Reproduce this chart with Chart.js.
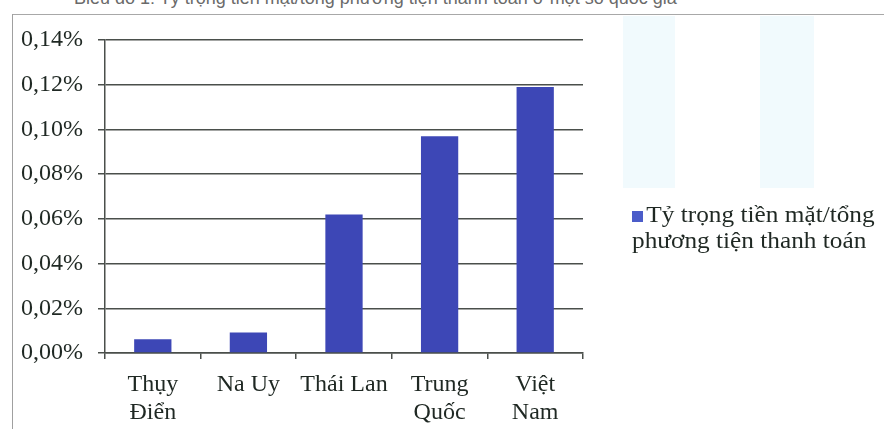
<!DOCTYPE html>
<html lang="vi">
<head>
<meta charset="utf-8">
<title>Tỷ trọng tiền mặt/tổng phương tiện thanh toán</title>
<script src="https://cdn.jsdelivr.net/npm/chart.js@4.4.1/dist/chart.umd.min.js"></script>
<style>
    html, body {
        margin: 0;
        padding: 0;
        background: #ffffff;
        overflow: hidden;
    }
    .page {
        position: relative;
        width: 889px;
        height: 429px;
        overflow: hidden;
        background: #ffffff;
    }
    .captionText {
        position: absolute;
        left: 74px;
        top: -12px;
        font-family: "Liberation Sans", Arial, sans-serif;
        font-size: 18px;
        line-height: 20px;
        color: #6a6a6a;
        white-space: nowrap;
    }
    .frameTop {
        position: absolute;
        left: 12px;
        top: 14px;
        width: 872px;
        height: 0;
        border-top: 1.5px solid #a8a8a8;
    }
    .frameLeft {
        position: absolute;
        left: 12px;
        top: 14px;
        width: 0;
        height: 420px;
        border-left: 1.5px solid #a0a0a0;
    }
    .band {
        position: absolute;
        top: 16px;
        height: 172px;
        background: #f1fafd;
    }
    #chartCanvas {
        position: absolute;
        left: 0;
        top: 0;
    }
    .legendBox {
        position: absolute;
        left: 632px;
        top: 202px;
        font-family: "Liberation Serif", "Times New Roman", serif;
        font-size: 23px;
        line-height: 26px;
        color: #1f2823;
        white-space: nowrap;
        transform: scaleX(1.1);
        transform-origin: left top;
    }
    .legendSwatch {
        display: inline-block;
        width: 10px;
        height: 11px;
        margin-right: 3px;
        background: #4b5cc9;
    }
</style>
</head>
<body>
<div class="page">
    <div class="band" style="left: 623px; width: 52px;"></div>
    <div class="band" style="left: 760px; width: 54px;"></div>
    <div class="captionText">Biểu đồ 1: Tỷ trọng tiền mặt/tổng phương tiện thanh toán ở một số quốc gia</div>
    <div class="frameTop"></div>
    <div class="frameLeft"></div>
    <canvas id="chartCanvas" width="889" height="429"></canvas>
    <div class="legendBox" id="legendBox"></div>
</div>

<script>
// Countries on the x axis (each split onto two lines where needed)
const countries = [['Thụy', 'Điển'], 'Na Uy', 'Thái Lan', ['Trung', 'Quốc'], ['Việt', 'Nam']];

// Cash share of total means of payment, in percent
const cashShare = [0.0062, 0.0092, 0.062, 0.097, 0.119];

// Y axis ticks, in percent
const yTicks = [0, 0.02, 0.04, 0.06, 0.08, 0.10, 0.12, 0.14];

const seriesLabel = 'Tỷ trọng tiền mặt/tổng phương tiện thanh toán';
const barColor = '#3d47b6';
const axisColor = '#4a4f4b';
const textColor = '#1f2823';

// Format a percent value with a comma decimal separator
function formatPercent(value) {
    return (Math.round(value * 100) / 100).toFixed(2).replace('.', ',') + '%';
}

// Legend is HTML so the label can wrap under the swatch
function buildLegend() {
    try {
        let legendBox = document.querySelector('#legendBox');
        if (legendBox != undefined) {
            legendBox.innerHTML = `
                <div><span class="legendSwatch"></span>Tỷ trọng tiền mặt/tổng</div>
                <div>phương tiện thanh toán</div>
            `;
        }
    } catch (e) {
        console.error(e);
    }
}

let chart;

function loadChart() {
    try {
        const ctx = document.getElementById('chartCanvas').getContext('2d');

        if (chart) {
            chart.destroy();
        }

        chart = new Chart(ctx, {
            type: 'bar',
            data: {
                labels: countries,
                datasets: [
                    {
                        label: seriesLabel,
                        data: cashShare,
                        backgroundColor: barColor,
                        borderWidth: 0,
                        categoryPercentage: 1,
                        barPercentage: 0.39
                    }
                ]
            },
            options: {
                responsive: false,
                animation: false,
                layout: {
                    padding: { top: 40, right: 306, bottom: 0, left: 0 }
                },
                plugins: {
                    legend: { display: false },
                    title: { display: false },
                    tooltip: { enabled: false }
                },
                scales: {
                    x: {
                        grid: {
                            display: true,
                            drawOnChartArea: false,
                            drawTicks: true,
                            tickLength: 6,
                            color: axisColor,
                            lineWidth: 1.5
                        },
                        border: { display: true, color: axisColor, width: 1.5 },
                        ticks: {
                            color: textColor,
                            padding: 11,
                            maxRotation: 0,
                            autoSkip: false,
                            font: { family: '"Liberation Serif", "Times New Roman", serif', size: 24, lineHeight: 1.2 }
                        },
                        afterFit: function (scale) {
                            scale.height = 76;
                        }
                    },
                    y: {
                        min: yTicks[0],
                        max: yTicks[yTicks.length - 1],
                        afterBuildTicks: function (scale) {
                            scale.ticks = yTicks.map(v => ({ value: v }));
                        },
                        grid: {
                            color: axisColor,
                            lineWidth: 1.5,
                            drawTicks: true,
                            tickLength: 7
                        },
                        border: { display: true, color: axisColor, width: 1.5 },
                        ticks: {
                            color: textColor,
                            padding: 15,
                            font: { family: '"Liberation Serif", "Times New Roman", serif', size: 24 },
                            callback: function (value) {
                                return formatPercent(value);
                            }
                        },
                        afterFit: function (scale) {
                            scale.width = 105;
                        }
                    }
                }
            }
        });
    } catch (e) {
        console.error(e);
    }
}

buildLegend();
loadChart();
</script>
</body>
</html>
